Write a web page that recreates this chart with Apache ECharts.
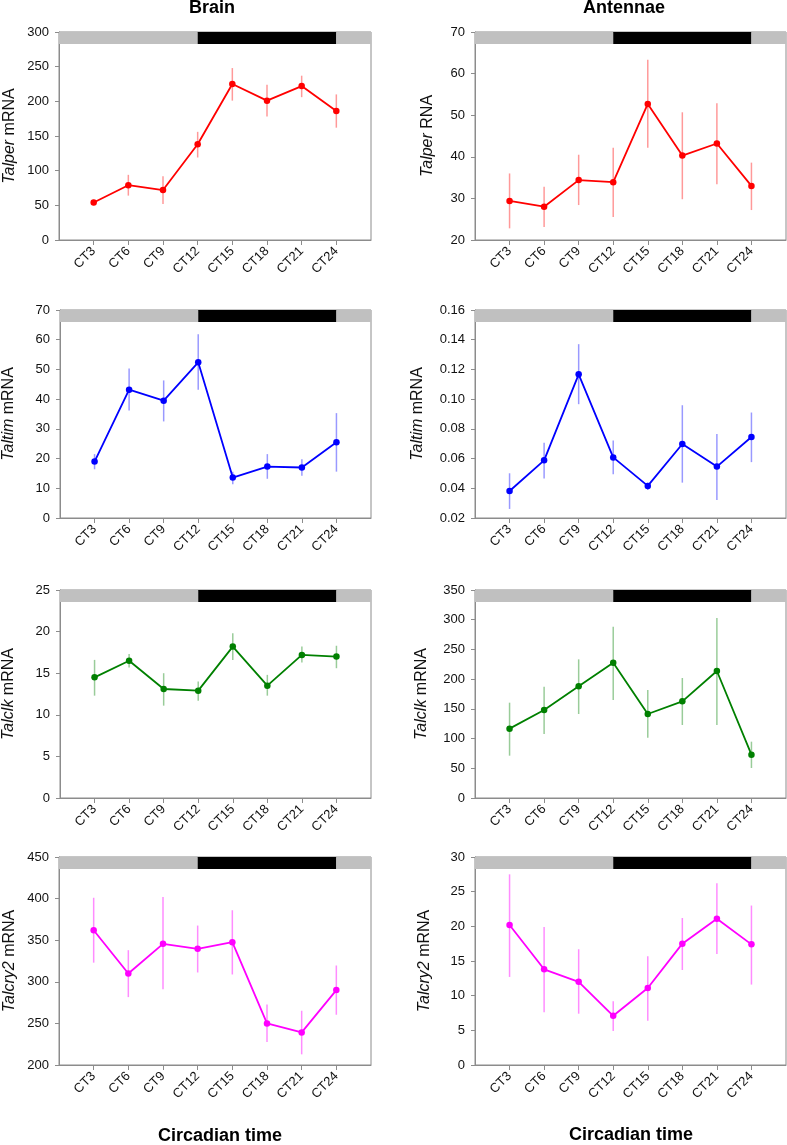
<!DOCTYPE html>
<html>
<head>
<meta charset="utf-8">
<script src="https://cdn.jsdelivr.net/npm/echarts@6/dist/echarts.min.js"></script>
<style>
html,body{margin:0;padding:0;background:#fff;}
#chart{width:787px;height:1145px;}
</style>
</head>
<body>
<div id="chart"></div>
<script>
// ---- data ----
const ctHours = [3, 6, 9, 12, 15, 18, 21, 24];
const ctLabels = ctHours.map(h => 'CT' + h);
const phases = [[0, 12, 'light'], [12, 24, 'dark'], [24, 27, 'light']];

const brainPerMean = [54, 79, 72, 138, 225, 201, 222, 186];
const brainPerLow  = [50, 64, 52, 119, 201, 178, 206, 162];
const brainPerHigh = [58, 94, 92, 156, 248, 224, 237, 210];

const antPerMean = [29.4, 28.0, 34.4, 33.9, 52.7, 40.3, 43.2, 33.0];
const antPerLow  = [22.8, 23.1, 28.4, 25.5, 42.2, 29.8, 33.4, 27.2];
const antPerHigh = [36.0, 32.8, 40.5, 42.2, 63.3, 50.7, 52.9, 38.6];

const brainTimMean = [19.0, 43.2, 39.5, 52.4, 13.6, 17.3, 17.0, 25.5];
const brainTimLow  = [16.4, 36.2, 32.5, 43.2, 11.4, 13.2, 14.2, 15.6];
const brainTimHigh = [21.5, 50.3, 46.3, 61.8, 15.6, 21.5, 19.8, 35.3];

const antTimMean = [0.0382, 0.0588, 0.1167, 0.0608, 0.0416, 0.0698, 0.0546, 0.0745];
const antTimLow  = [0.0261, 0.0466, 0.0966, 0.0494, 0.0388, 0.0438, 0.0321, 0.0576];
const antTimHigh = [0.0501, 0.0707, 0.137, 0.0722, 0.0438, 0.0959, 0.0766, 0.091];

const brainClkMean = [14.5, 16.5, 13.1, 12.9, 18.2, 13.5, 17.2, 17.0];
const brainClkLow  = [12.3, 15.7, 11.1, 11.7, 16.6, 12.3, 16.3, 15.6];
const brainClkHigh = [16.6, 17.3, 15.0, 14.0, 19.8, 14.8, 18.2, 18.3];

const antClkMean = [116.7, 148, 187.9, 227.7, 141.3, 162.6, 213.7, 72.9];
const antClkLow  = [71.2, 107.7, 141.3, 164.9, 101.5, 122.8, 122.8, 50.5];
const antClkHigh = [160.4, 187.3, 233.3, 288.3, 181.7, 201.9, 302.9, 94.8];

const brainCryMean = [362, 310, 345.6, 339.6, 347.6, 250, 239.2, 290];
const brainCryLow  = [323, 281.6, 291, 311.2, 308.8, 227.6, 212.8, 260.4];
const brainCryHigh = [401, 338, 402, 367.6, 386, 272.8, 265.2, 319.6];

const antCryMean = [20.2, 13.8, 12.0, 7.1, 11.1, 17.5, 21.1, 17.4];
const antCryLow  = [12.7, 7.6, 7.4, 4.9, 6.4, 13.7, 16.0, 11.6];
const antCryHigh = [27.5, 19.9, 16.7, 9.2, 15.7, 21.2, 26.2, 23.0];

// ---- panels ----
const panels = [
  {gene: 'Talper', unit: ' mRNA', mean: brainPerMean, low: brainPerLow, high: brainPerHigh, min: 0, max: 300, interval: 50, dec: 0, color: '#ff0000', err: 'rgba(255,0,0,0.4)', col: 0, row: 0, gap: 41},
  {gene: 'Talper', unit: ' RNA', mean: antPerMean, low: antPerLow, high: antPerHigh, min: 20, max: 70, interval: 10, dec: 0, color: '#ff0000', err: 'rgba(255,0,0,0.4)', col: 1, row: 0, gap: 39},
  {gene: 'Taltim', unit: ' mRNA', mean: brainTimMean, low: brainTimLow, high: brainTimHigh, min: 0, max: 70, interval: 10, dec: 0, color: '#0000ff', err: 'rgba(0,0,255,0.4)', col: 0, row: 1, gap: 43},
  {gene: 'Taltim', unit: ' mRNA', mean: antTimMean, low: antTimLow, high: antTimHigh, min: 0.02, max: 0.16, interval: 0.02, dec: 2, color: '#0000ff', err: 'rgba(0,0,255,0.4)', col: 1, row: 1, gap: 49},
  {gene: 'Talclk', unit: ' mRNA', mean: brainClkMean, low: brainClkLow, high: brainClkHigh, min: 0, max: 25, interval: 5, dec: 0, color: '#008000', err: 'rgba(0,128,0,0.4)', col: 0, row: 2, gap: 43},
  {gene: 'Talclk', unit: ' mRNA', mean: antClkMean, low: antClkLow, high: antClkHigh, min: 0, max: 350, interval: 50, dec: 0, color: '#008000', err: 'rgba(0,128,0,0.4)', col: 1, row: 2, gap: 45},
  {gene: 'Talcry2', unit: ' mRNA', mean: brainCryMean, low: brainCryLow, high: brainCryHigh, min: 200, max: 450, interval: 50, dec: 0, color: '#ff00ff', err: 'rgba(255,0,255,0.45)', col: 0, row: 3, gap: 41},
  {gene: 'Talcry2', unit: ' mRNA', mean: antCryMean, low: antCryLow, high: antCryHigh, min: 0, max: 30, interval: 5, dec: 0, color: '#ff00ff', err: 'rgba(255,0,255,0.45)', col: 1, row: 3, gap: 42}
];

const colLeft = [59, 475];
const colWidth = [312, 311];
const rowTop = [32, 310, 590, 857];
const plotH = 208;
const bandH = 12;
const font = '"Liberation Sans", Arial, sans-serif';

const grids = [], xAxes = [], yAxes = [], series = [];
panels.forEach((p, i) => {
  grids.push({left: colLeft[p.col], top: rowTop[p.row], width: colWidth[p.col], height: plotH,
    show: true, borderColor: '#8c8c8c', borderWidth: 1, backgroundColor: 'transparent', containLabel: false});
  xAxes.push({type: 'value', gridIndex: i, min: 0, max: 27, interval: 3,
    splitLine: {show: false},
    axisLine: {show: true, lineStyle: {color: '#8c8c8c', width: 1}},
    axisTick: {show: true, length: 5, lineStyle: {color: '#8c8c8c'}, customValues: ctHours},
    axisLabel: {show: true, rotate: 45, margin: 9, fontSize: 13, color: '#111', fontFamily: font,
      customValues: ctHours, formatter: v => ctLabels[ctHours.indexOf(v)] || ''}
  });
  yAxes.push({type: 'value', gridIndex: i, min: p.min, max: p.max, interval: p.interval,
    splitLine: {show: false},
    axisLine: {show: true, lineStyle: {color: '#8c8c8c', width: 1}},
    axisTick: {show: true, length: 4, lineStyle: {color: '#8c8c8c'}},
    axisLabel: {fontSize: 13, color: '#111', fontFamily: font, margin: 10,
      formatter: v => v.toFixed(p.dec)},
    name: '{i|' + p.gene + '}' + p.unit,
    nameLocation: 'middle', nameRotate: 90, nameGap: p.gap,
    nameTextStyle: {fontSize: 16, color: '#111', fontFamily: font,
      rich: {i: {fontStyle: 'italic', fontSize: 16, color: '#111', fontFamily: font}}}
  });
  // light/dark band
  series.push({type: 'custom', xAxisIndex: i, yAxisIndex: i, z: 5, silent: true,
    data: phases.map(ph => [ph[0], ph[1], ph[2] === 'dark' ? 1 : 0]),
    renderItem: (params, api) => {
      const a = api.coord([api.value(0), p.max]);
      const b = api.coord([api.value(1), p.max]);
      return {type: 'rect', shape: {x: a[0], y: a[1], width: b[0] - a[0], height: bandH},
        style: {fill: api.value(2) ? '#000000' : '#c0c0c0'}};
    }
  });
  // error bars
  series.push({type: 'custom', xAxisIndex: i, yAxisIndex: i, z: 3, silent: true,
    data: ctHours.map((h, k) => [h, p.low[k], p.high[k]]),
    renderItem: (params, api) => {
      const lo = api.coord([api.value(0), api.value(1)]);
      const hi = api.coord([api.value(0), api.value(2)]);
      return {type: 'line', shape: {x1: lo[0], y1: lo[1], x2: hi[0], y2: hi[1]},
        style: {stroke: p.err, lineWidth: 1.5}};
    }
  });
  series.push({type: 'line', xAxisIndex: i, yAxisIndex: i, z: 4,
    data: ctHours.map((h, k) => [h, p.mean[k]]),
    symbol: 'circle', symbolSize: 6.5,
    lineStyle: {color: p.color, width: 1.8},
    itemStyle: {color: p.color},
    animation: false
  });
});

const chart = echarts.init(document.getElementById('chart'), null, {renderer: 'canvas'});
chart.setOption({
  animation: false,
  backgroundColor: '#ffffff',
  grid: grids, xAxis: xAxes, yAxis: yAxes, series: series,
  graphic: [
    {type: 'text', x: 212, y: 8, style: {text: 'Brain', font: 'bold 18px ' + font, fill: '#000', align: 'center', verticalAlign: 'middle'}},
    {type: 'text', x: 624, y: 8, style: {text: 'Antennae', font: 'bold 18px ' + font, fill: '#000', align: 'center', verticalAlign: 'middle'}},
    {type: 'text', x: 220, y: 1136, style: {text: 'Circadian time', font: 'bold 18px ' + font, fill: '#000', align: 'center', verticalAlign: 'middle'}},
    {type: 'text', x: 631, y: 1135, style: {text: 'Circadian time', font: 'bold 18px ' + font, fill: '#000', align: 'center', verticalAlign: 'middle'}}
  ]
});
</script>
</body>
</html>
